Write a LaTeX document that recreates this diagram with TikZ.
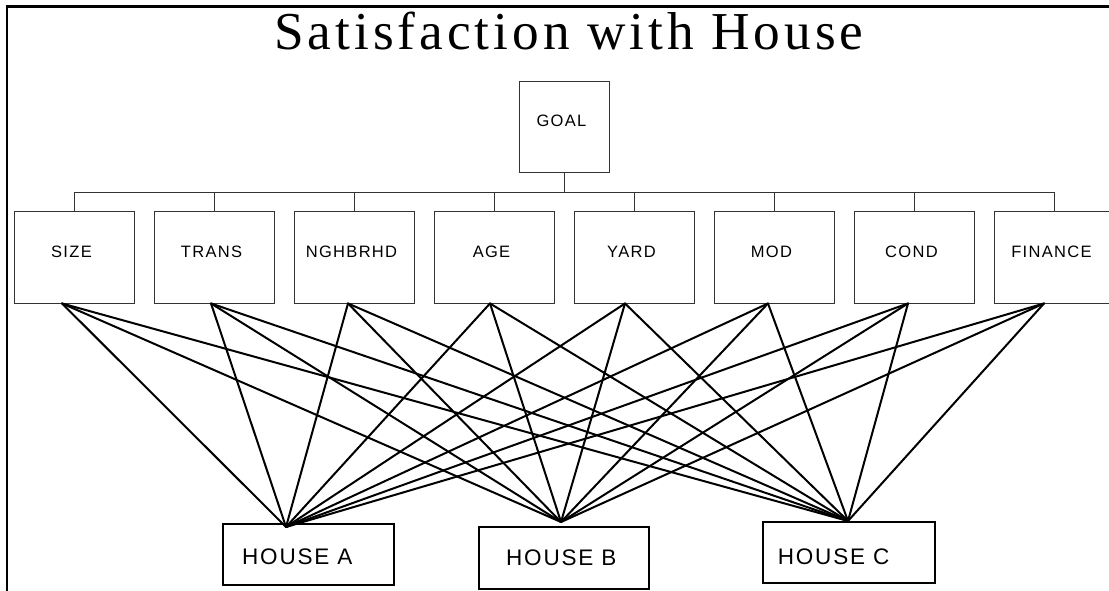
\documentclass[tikz,border=0pt]{standalone}
\usepackage{fontspec}
\setmainfont{Liberation Serif}
\newfontfamily\titlefont[LetterSpace=7.5]{Liberation Serif}
\newfontfamily\labelfont[LetterSpace=8]{Liberation Sans}
\tikzset{
  critbox/.style={draw=black!80, line width=0.9pt, minimum width=120pt, minimum height=92pt,
    inner sep=0pt, font=\labelfont\fontsize{16.5}{18}\selectfont, text height=8pt, text depth=8pt,
    execute at end node={\hspace*{5pt}}},
  goalbox/.style={critbox, minimum width=90pt, minimum height=91pt},
  housebox/.style={draw=black, line width=2pt, inner sep=0pt},
  housetext/.style={font=\labelfont\fontsize{22.5}{24}\selectfont, inner sep=0pt, anchor=base west},
  busline/.style={draw=black!80, line width=0.9pt},
  link/.style={draw=black, line width=2pt, line cap=round},
  frameline/.style={draw=black}
}
\begin{document}
\begin{tikzpicture}[x=1pt,y=-1pt]
\useasboundingbox (0,0) rectangle (1109,591);
% frame
\draw[frameline, line width=1.3pt] (7,591) -- (7,6.5);
\draw[frameline, line width=2.2pt] (6.4,6.5) -- (1109,6.5);
% title
\node[font=\titlefont\fontsize{53.3}{56}\selectfont, inner sep=0pt, anchor=base west] (title) at (274,49.5) {Satisfaction with House};
% goal
\node[goalbox] (goal) at (564,126.5) {GOAL};
% criteria
\node[critbox] (size) at (74,257) {SIZE};
\node[critbox] (trans) at (214,257) {TRANS};
\node[critbox] (nghbrhd) at (354,257) {NGHBRHD};
\node[critbox] (age) at (494,257) {AGE};
\node[critbox] (yard) at (634,257) {YARD};
\node[critbox] (mod) at (774,257) {MOD};
\node[critbox] (cond) at (914,257) {COND};
\node[critbox] (finance) at (1054,257) {FINANCE};
% bus
\coordinate (bus) at (564,192);
\draw[busline] (goal.south) -- (bus);
\draw[busline] (size.north) |- (finance.north |- bus) -- (finance.north);
\foreach \c in {trans,nghbrhd,age,yard,mod,cond}
  \draw[busline] (\c.north) -- (\c.north |- bus);
% houses
\node[housebox, minimum width=171pt, minimum height=61pt] (houseA) at (308.4,554.4) {};
\node[housetext] (labelA) at (242,564) {HOUSE A};
\node[housebox, minimum width=170pt, minimum height=61.5pt] (houseB) at (564,558.2) {};
\node[housetext] (labelB) at (506,565.5) {HOUSE B};
\node[housebox, minimum width=172.5pt, minimum height=61pt] (houseC) at (849,552.5) {};
\node[housetext] (labelC) at (777.7,564) {HOUSE C};
% connector end points
\coordinate (pA) at (286,527);
\coordinate (pB) at (561,522);
\coordinate (pC) at (848,521);
\coordinate (size-p) at (size.south -| 62,0);
\coordinate (trans-p) at (trans.south -| 211,0);
\coordinate (nghbrhd-p) at (nghbrhd.south -| 348,0);
\coordinate (age-p) at (age.south -| 490,0);
\coordinate (yard-p) at (yard.south -| 625,0);
\coordinate (mod-p) at (mod.south -| 768,0);
\coordinate (cond-p) at (cond.south -| 908,0);
\coordinate (finance-p) at (finance.south -| 1044,0);
\foreach \c in {size,trans,nghbrhd,age,yard,mod,cond,finance}
  \foreach \h in {pA,pB,pC}
    \draw[link] (\c-p) -- (\h);
\end{tikzpicture}
\end{document}
